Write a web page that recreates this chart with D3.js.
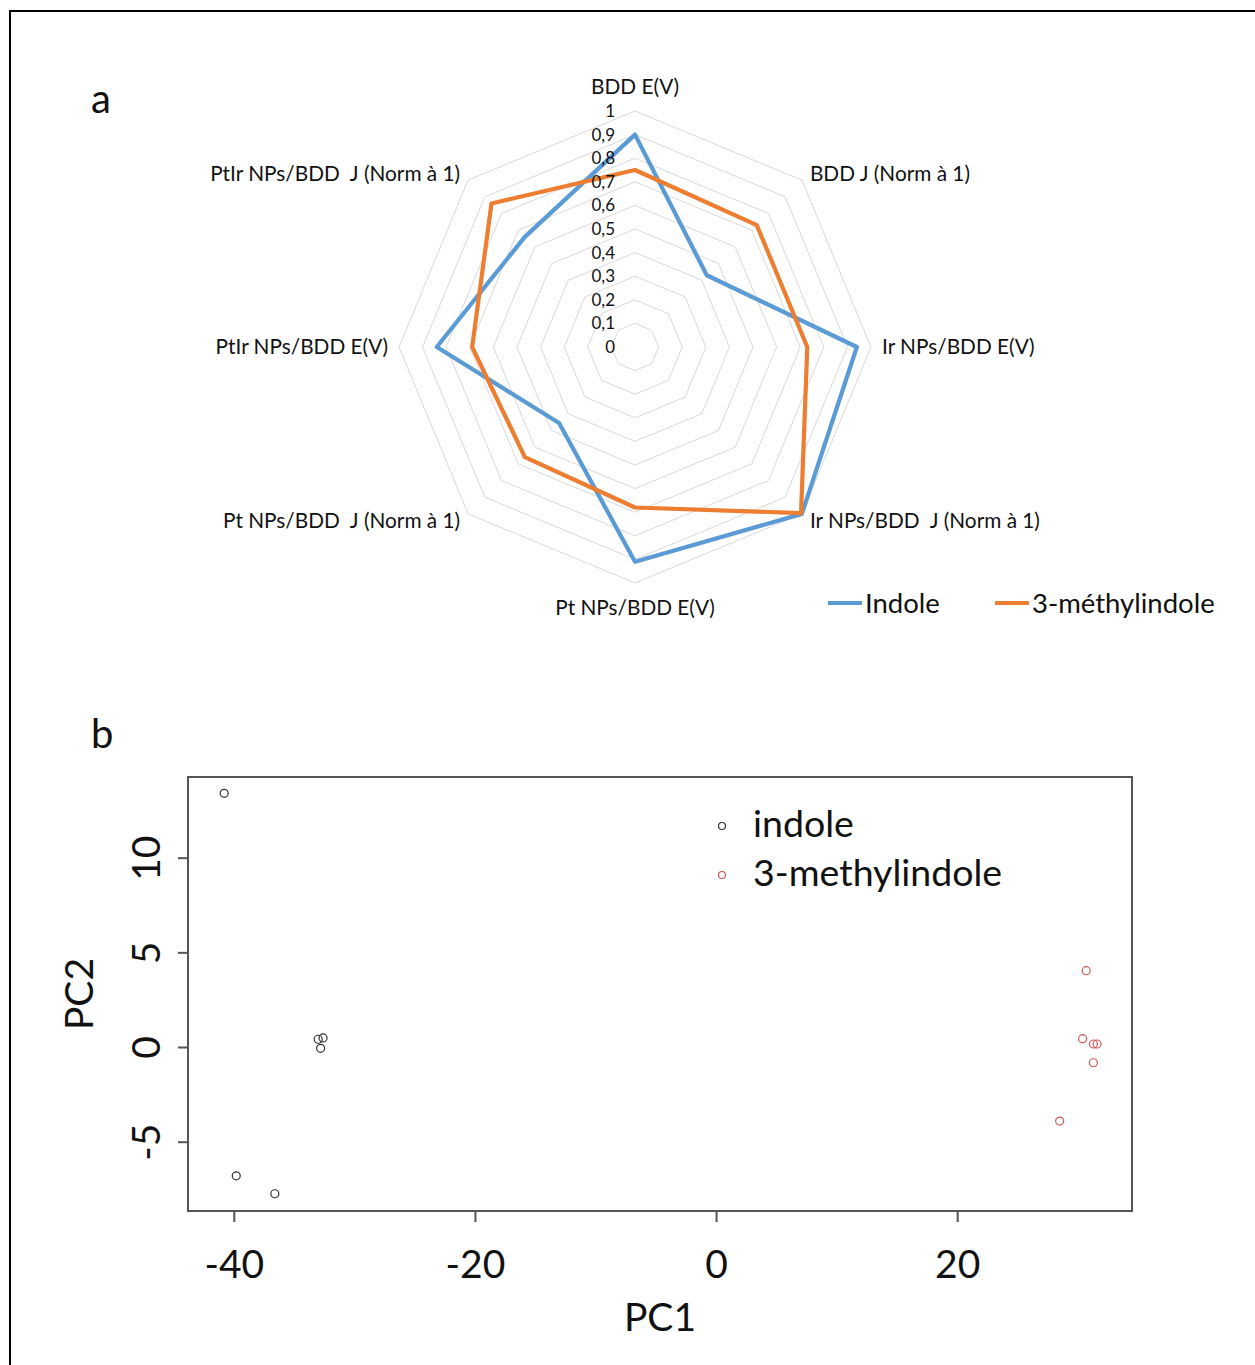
<!DOCTYPE html>
<html>
<head>
<meta charset="utf-8">
<script src="https://cdn.jsdelivr.net/npm/d3@7"></script>
<style>
  html, body { margin: 0; padding: 0; background: #fff; }
  svg { display: block; }
  text { font-family: Lato, "Open Sans", sans-serif; fill: #111; }
</style>
</head>
<body>
<svg id="chart" width="1255" height="1365"></svg>
<script>
// ---------- Data: radar (panel a) ----------
const radarCategories = [
  "BDD E(V)",
  "BDD J (Norm à 1)",
  "Ir NPs/BDD E(V)",
  "Ir NPs/BDD  J (Norm à 1)",
  "Pt NPs/BDD E(V)",
  "Pt NPs/BDD  J (Norm à 1)",
  "PtIr NPs/BDD E(V)",
  "PtIr NPs/BDD  J (Norm à 1)"
];
const indoleValues = [0.90, 0.43, 0.94, 1.00, 0.91, 0.455, 0.84, 0.66];
const methylValues = [0.75, 0.73, 0.73, 0.995, 0.68, 0.66, 0.69, 0.86];
const radarTicks = [0, 0.1, 0.2, 0.3, 0.4, 0.5, 0.6, 0.7, 0.8, 0.9, 1];
const radarTickLabels = ["0", "0,1", "0,2", "0,3", "0,4", "0,5", "0,6", "0,7", "0,8", "0,9", "1"];
const radarSeries = ["Indole", "3-méthylindole"];

// ---------- Data: PCA scatter (panel b) ----------
const indolePC1 = [-40.8, -39.8, -36.6, -33.0, -32.6, -32.8];
const indolePC2 = [13.4, -6.8, -7.75, 0.41, 0.48, -0.07];
const methylPC1 = [30.7, 30.4, 31.3, 31.6, 31.3, 28.5];
const methylPC2 = [4.03, 0.44, 0.16, 0.16, -0.83, -3.91];
const pcaXTicks = [-40, -20, 0, 20];
const pcaYTicks = [-5, 0, 5, 10];
const pcaSeries = ["indole", "3-methylindole"];

const svg = d3.select("#chart");

// outer panel frame
svg.append("rect")
  .attr("x", 10).attr("y", 11)
  .attr("width", 1300).attr("height", 1400)
  .attr("fill", "none").attr("stroke", "#000").attr("stroke-width", 2);

// panel letters
svg.append("text").attr("x", 91).attr("y", 113).attr("font-size", 40).text("a");
svg.append("text").attr("x", 91).attr("y", 748).attr("font-size", 40).text("b");

// ================= RADAR =================
const cx = 635, cy = 347, R = 236;
const n = radarCategories.length;
const rScale = d3.scaleLinear().domain([0, 1]).range([0, R]);
const angle = i => i * 2 * Math.PI / n;

const radar = svg.append("g").attr("transform", `translate(${cx},${cy})`);

const ringLine = d3.lineRadial()
  .angle((d, i) => angle(i))
  .radius(d => rScale(d))
  .curve(d3.curveLinearClosed);

radar.selectAll("path.ring")
  .data(radarTicks.filter(t => t > 0))
  .join("path")
  .attr("class", "ring")
  .attr("d", t => ringLine(d3.range(n).map(() => t)))
  .attr("fill", "none")
  .attr("stroke", "#d9d9d9")
  .attr("stroke-width", 1);

// series
const seriesData = [indoleValues, methylValues];
const seriesColors = ["#5B9BD5", "#ED7D31"];
const valueLine = d3.lineRadial()
  .angle((d, i) => angle(i))
  .radius(d => rScale(d))
  .curve(d3.curveLinearClosed);

radar.selectAll("path.series")
  .data(seriesData)
  .join("path")
  .attr("class", "series")
  .attr("d", d => valueLine(d))
  .attr("fill", "none")
  .attr("stroke", (d, i) => seriesColors[i])
  .attr("stroke-width", 4.2)
  .attr("stroke-linejoin", "round");

// tick labels
radar.selectAll("text.tick")
  .data(radarTicks)
  .join("text")
  .attr("class", "tick")
  .attr("x", -20)
  .attr("y", t => -rScale(t))
  .attr("dy", "0.35em")
  .attr("text-anchor", "end")
  .attr("font-size", 17)
  .text((t, i) => radarTickLabels[i]);

// category labels
radar.selectAll("text.cat")
  .data(radarCategories)
  .join("text")
  .attr("class", "cat")
  .each(function (d, i) {
    const a = angle(i);
    const s = Math.sin(a), c = Math.cos(a);
    let x = rScale(1) * s, y = -rScale(1) * c;
    let anchor = "middle";
    if (s > 0.1) { anchor = "start"; x += (Math.abs(c) < 0.1 ? 11 : 8); }
    else if (s < -0.1) { anchor = "end"; x -= (Math.abs(c) < 0.1 ? 11 : 8); }
    if (Math.abs(s) < 0.1) y += c > 0 ? -24 : 25;
    else if (Math.abs(c) > 0.1) y += c > 0 ? -6 : 7;
    d3.select(this)
      .attr("x", x).attr("y", y)
      .attr("dy", "0.35em")
      .attr("text-anchor", anchor)
      .attr("font-size", 20.8)
      .attr("xml:space", "preserve")
      .text(d);
  });

// radar legend
const legA = svg.append("g");
const legAX = [828, 995];
radarSeries.forEach((name, i) => {
  legA.append("line")
    .attr("x1", legAX[i]).attr("x2", legAX[i] + 34)
    .attr("y1", 603).attr("y2", 603)
    .attr("stroke", seriesColors[i]).attr("stroke-width", 4);
  legA.append("text")
    .attr("x", legAX[i] + 37).attr("y", 613)
    .attr("font-size", 27.5)
    .text(name);
});

// ================= PCA SCATTER =================
const pl = 188, pr = 1132, pt = 777, pb = 1211;
const xScale = d3.scaleLinear().domain([-43.8, 34.5]).range([pl, pr]);
const yScale = d3.scaleLinear().domain([-8.66, 14.26]).range([pb, pt]);
const axisColor = "#555";

svg.append("rect")
  .attr("x", pl).attr("y", pt)
  .attr("width", pr - pl).attr("height", pb - pt)
  .attr("fill", "none").attr("stroke", axisColor).attr("stroke-width", 2);

const xAxis = svg.append("g")
  .attr("transform", `translate(0,${pb})`)
  .call(d3.axisBottom(xScale).tickValues(pcaXTicks).tickSize(11).tickPadding(28).tickFormat(d3.format("d")));
xAxis.select(".domain").remove();
xAxis.selectAll(".tick line").attr("stroke", axisColor).attr("stroke-width", 2);
xAxis.selectAll(".tick text")
  .attr("font-size", 39).attr("font-family", "Lato, sans-serif").attr("fill", "#111")
  .text(d => String(d).replace("−", "-"));

const yAxis = svg.append("g")
  .attr("transform", `translate(${pl},0)`)
  .call(d3.axisLeft(yScale).tickValues(pcaYTicks).tickSize(10).tickFormat(d3.format("d")));
yAxis.select(".domain").remove();
yAxis.selectAll(".tick line").attr("stroke", axisColor).attr("stroke-width", 2);
yAxis.selectAll(".tick text")
  .attr("font-size", 39).attr("font-family", "Lato, sans-serif").attr("fill", "#111")
  .attr("x", 0).attr("y", 0).attr("dy", 0)
  .attr("text-anchor", "middle")
  .attr("transform", "translate(-28,0) rotate(-90)")
  .text(d => String(d).replace("−", "-"));

// axis titles
svg.append("text")
  .attr("x", (pl + pr) / 2).attr("y", 1331)
  .attr("text-anchor", "middle").attr("font-size", 39).text("PC1");
svg.append("text")
  .attr("transform", `translate(93,${(pt + pb) / 2}) rotate(-90)`)
  .attr("text-anchor", "middle").attr("font-size", 39).text("PC2");

// points
const pointColors = ["#333333", "#d0555a"];
const pcaData = [
  indolePC1.map((x, i) => ({ x, y: indolePC2[i], g: 0 })),
  methylPC1.map((x, i) => ({ x, y: methylPC2[i], g: 1 }))
].flat();

svg.append("g").selectAll("circle")
  .data(pcaData)
  .join("circle")
  .attr("cx", d => xScale(d.x))
  .attr("cy", d => yScale(d.y))
  .attr("r", 4)
  .attr("fill", "none")
  .attr("stroke", d => pointColors[d.g])
  .attr("stroke-width", 1.2);

// scatter legend
const legB = svg.append("g");
const legBY = [824, 873];
pcaSeries.forEach((name, i) => {
  legB.append("circle")
    .attr("cx", 722).attr("cy", legBY[i] + 2).attr("r", 3.5)
    .attr("fill", "none").attr("stroke", pointColors[i]).attr("stroke-width", 1.2);
  legB.append("text")
    .attr("x", 753).attr("y", legBY[i]).attr("dy", "0.35em")
    .attr("font-size", 37.5)
    .text(name);
});
</script>
</body>
</html>
